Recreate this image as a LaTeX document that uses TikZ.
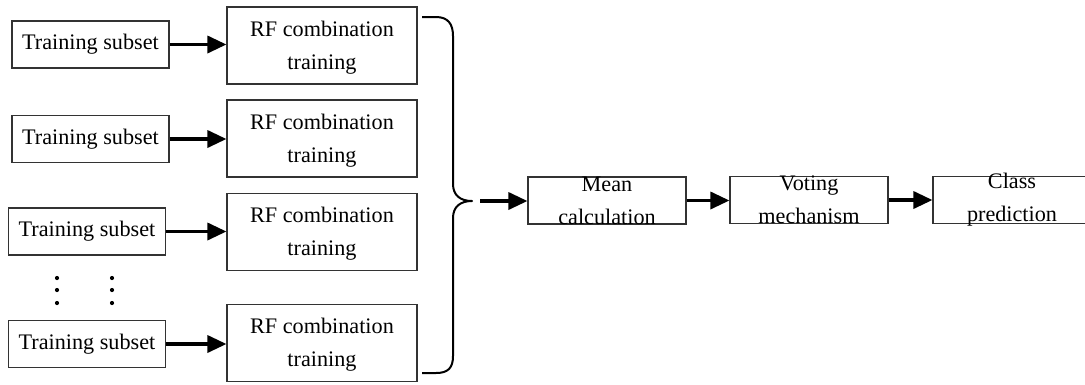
\documentclass[tikz,border=0pt]{standalone}
\usepackage{fontspec}
\setmainfont{Liberation Serif}
\usetikzlibrary{arrows.meta,calc}
\begin{document}
\begin{tikzpicture}[x=1pt,y=-1pt,
  box/.style={draw=black!80,line width=1.1pt,inner sep=0pt,minimum width=#1},
  tbox/.style={box=157pt,minimum height=47pt},
  rfbox/.style={box=190pt,minimum height=77pt},
  sbox/.style={box=158pt,minimum height=47pt},
  lbl/.style={align=center,inner sep=0pt,font=\fontsize{22.2}{33}\selectfont},
  arr/.style={line width=3.4pt,-{Triangle[length=19pt,width=17pt]}},
  brace/.style={line width=2pt,line join=round}]
\useasboundingbox (0,0) rectangle (1085,384);
% training subsets
\node[tbox] (t1) at (90.5,44.5) {};
\node[tbox] (t2) at (90.5,139) {};
\node[tbox] (t3) at (87,231.5) {};
\node[tbox] (t4) at (87,344) {};
\foreach \i in {1,...,4}{\node[lbl] at (t\i.center) {Training subset};}
% RF boxes
\node[rfbox] (r1) at (322,45.5) {};
\node[rfbox] (r2) at (322,138.5) {};
\node[rfbox] (r3) at (322,232) {};
\node[rfbox] (r4) at (322,343) {};
\foreach \i in {1,...,4}{\node[lbl] at ($(r\i.center)+(0,2)$) {RF combination\\training};}
% arrows
\foreach \i in {1,...,4}{\draw[arr] (t\i.east) -- (t\i.east -| r\i.west);}
% dots
\foreach \x in {57,112}{\foreach \y in {278,290,303}{\fill (\x,\y) circle (2.1pt);}}
% brace
\coordinate (bt) at (422,17);
\coordinate (bm) at (472,201);
\coordinate (bb) at (422,373);
\draw[brace] (bt) -- (436,17) .. controls (448,17) and (453,24) .. (453,36)
  -- (453,184) .. controls (453,195) and (460,201) .. (bm)
  .. controls (460,201) and (453,207) .. (453,218)
  -- (453,356) .. controls (453,368) and (448,373) .. (436,373) -- (bb);
\coordinate (ba) at (480,201);
% right chain
\node[sbox] (mean) at (607,200.5) {};
\node[sbox] (vote) at (809,200) {};
\node[sbox] (cls) at (1012,200) {};
\node[lbl] at (mean.center) {Mean\\calculation};
\node[lbl] at (vote.center) {Voting\\mechanism};
\node[lbl] at (cls.center) {Class\\prediction};
\draw[arr] (ba) -- (ba -| mean.west);
\draw[arr] (mean.east) -- (mean.east -| vote.west);
\draw[arr] (vote.east) -- (vote.east -| cls.west);
\end{tikzpicture}
\end{document}
